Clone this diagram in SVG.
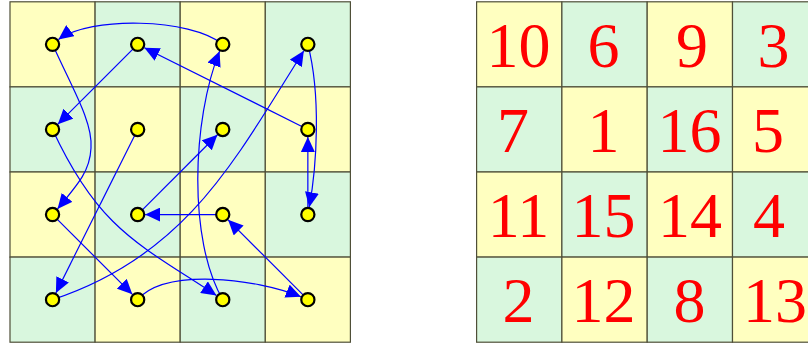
<svg xmlns="http://www.w3.org/2000/svg" width="808" height="347" viewBox="0 0 808 347">
<style>
.y{fill:#ffffc0;stroke:#4f4f38;stroke-width:1.2}
.g{fill:#d9f7de;stroke:#4f4f38;stroke-width:1.2}
.e{fill:none;stroke:#0000ff;stroke-width:1.2;marker-end:url(#ah)}
.d{fill:#ffff00;stroke:#000;stroke-width:2.2}
.n{font-family:"Liberation Serif","Times New Roman",serif;font-size:64px;fill:#ff0000;text-anchor:middle}
</style>
<defs>
<marker id="ah" viewBox="0 0 15 14" refX="15" refY="7" markerWidth="15" markerHeight="14" markerUnits="userSpaceOnUse" orient="auto">
<path d="M0,0 L15,7 L0,14 Z" fill="#0000ff"/>
</marker>
</defs>
<g id="grid-left">
<rect class="y" x="10" y="1.8" width="85.1" height="85.1"/>
<rect class="g" x="95.1" y="1.8" width="85.1" height="85.1"/>
<rect class="y" x="180.2" y="1.8" width="85.1" height="85.1"/>
<rect class="g" x="265.3" y="1.8" width="85.1" height="85.1"/>
<rect class="g" x="10" y="86.9" width="85.1" height="85.1"/>
<rect class="y" x="95.1" y="86.9" width="85.1" height="85.1"/>
<rect class="g" x="180.2" y="86.9" width="85.1" height="85.1"/>
<rect class="y" x="265.3" y="86.9" width="85.1" height="85.1"/>
<rect class="y" x="10" y="172" width="85.1" height="85.1"/>
<rect class="g" x="95.1" y="172" width="85.1" height="85.1"/>
<rect class="y" x="180.2" y="172" width="85.1" height="85.1"/>
<rect class="g" x="265.3" y="172" width="85.1" height="85.1"/>
<rect class="g" x="10" y="257.1" width="85.1" height="85.1"/>
<rect class="y" x="95.1" y="257.1" width="85.1" height="85.1"/>
<rect class="g" x="180.2" y="257.1" width="85.1" height="85.1"/>
<rect class="y" x="265.3" y="257.1" width="85.1" height="85.1"/>
</g>
<g id="connectors">
<path class="e" d="M137.65,129.45 L55.9,292.9"/>
<path class="e" d="M52.55,299.65 C186.5,255.5 235,160 303.85,50.7"/>
<path class="e" d="M307.85,44.35 C321,95 317,165 309.2,207.2"/>
<path class="e" d="M307.85,214.55 L307.85,136.95"/>
<path class="e" d="M307.85,129.45 L144.35,47.7"/>
<path class="e" d="M137.65,44.35 L57.85,124.15"/>
<path class="e" d="M52.55,129.45 C98.8,229.6 139.7,244.6 216.5,295.5"/>
<path class="e" d="M222.75,299.65 C188,240 192,120 219.6,51.15"/>
<path class="e" d="M222.75,44.35 C190,18 90,16 58.4,39.6"/>
<path class="e" d="M52.55,44.35 C72,88 93,122 91,148 C90,170 80,182 57.5,208.9"/>
<path class="e" d="M52.55,214.55 L132.35,294.35"/>
<path class="e" d="M137.65,299.65 C165,268 255,278 300.9,296.8"/>
<path class="e" d="M307.85,299.65 L228.05,219.85"/>
<path class="e" d="M222.75,214.55 L145.15,214.55"/>
<path class="e" d="M137.65,214.55 L217.45,134.75"/>
</g>
<g id="nodes">
<circle id="p10" class="d" cx="52.55" cy="44.35" r="6.6"/>
<circle id="p6" class="d" cx="137.65" cy="44.35" r="6.6"/>
<circle id="p9" class="d" cx="222.75" cy="44.35" r="6.6"/>
<circle id="p3" class="d" cx="307.85" cy="44.35" r="6.6"/>
<circle id="p7" class="d" cx="52.55" cy="129.45" r="6.6"/>
<circle id="p1" class="d" cx="137.65" cy="129.45" r="6.6"/>
<circle id="p16" class="d" cx="222.75" cy="129.45" r="6.6"/>
<circle id="p5" class="d" cx="307.85" cy="129.45" r="6.6"/>
<circle id="p11" class="d" cx="52.55" cy="214.55" r="6.6"/>
<circle id="p15" class="d" cx="137.65" cy="214.55" r="6.6"/>
<circle id="p14" class="d" cx="222.75" cy="214.55" r="6.6"/>
<circle id="p4" class="d" cx="307.85" cy="214.55" r="6.6"/>
<circle id="p2" class="d" cx="52.55" cy="299.65" r="6.6"/>
<circle id="p12" class="d" cx="137.65" cy="299.65" r="6.6"/>
<circle id="p8" class="d" cx="222.75" cy="299.65" r="6.6"/>
<circle id="p13" class="d" cx="307.85" cy="299.65" r="6.6"/>
</g>
<g id="grid-right">
<rect class="y" x="476.6" y="1.8" width="85.3" height="85.1"/>
<rect class="g" x="561.9" y="1.8" width="85.3" height="85.1"/>
<rect class="y" x="647.2" y="1.8" width="85.3" height="85.1"/>
<rect class="g" x="732.5" y="1.8" width="85.3" height="85.1"/>
<rect class="g" x="476.6" y="86.9" width="85.3" height="85.1"/>
<rect class="y" x="561.9" y="86.9" width="85.3" height="85.1"/>
<rect class="g" x="647.2" y="86.9" width="85.3" height="85.1"/>
<rect class="y" x="732.5" y="86.9" width="85.3" height="85.1"/>
<rect class="y" x="476.6" y="172" width="85.3" height="85.1"/>
<rect class="g" x="561.9" y="172" width="85.3" height="85.1"/>
<rect class="y" x="647.2" y="172" width="85.3" height="85.1"/>
<rect class="g" x="732.5" y="172" width="85.3" height="85.1"/>
<rect class="g" x="476.6" y="257.1" width="85.3" height="85.1"/>
<rect class="y" x="561.9" y="257.1" width="85.3" height="85.1"/>
<rect class="g" x="647.2" y="257.1" width="85.3" height="85.1"/>
<rect class="y" x="732.5" y="257.1" width="85.3" height="85.1"/>
</g>
<g id="numbers">
<text class="n" x="518.5" y="66.7">10</text>
<text class="n" x="603.5" y="66.7">6</text>
<text class="n" x="692" y="66.7">9</text>
<text class="n" x="773.5" y="66.7">3</text>
<text class="n" x="513" y="151.8">7</text>
<text class="n" x="603.5" y="151.8">1</text>
<text class="n" x="689.5" y="151.8">16</text>
<text class="n" x="768" y="151.8">5</text>
<text class="n" x="518.5" y="236.9">11</text>
<text class="n" x="603.5" y="236.9">15</text>
<text class="n" x="690" y="236.9">14</text>
<text class="n" x="769" y="236.9">4</text>
<text class="n" x="518.5" y="322">2</text>
<text class="n" x="603.5" y="322">12</text>
<text class="n" x="689.5" y="322">8</text>
<text class="n" x="775" y="322">13</text>
</g>
</svg>
